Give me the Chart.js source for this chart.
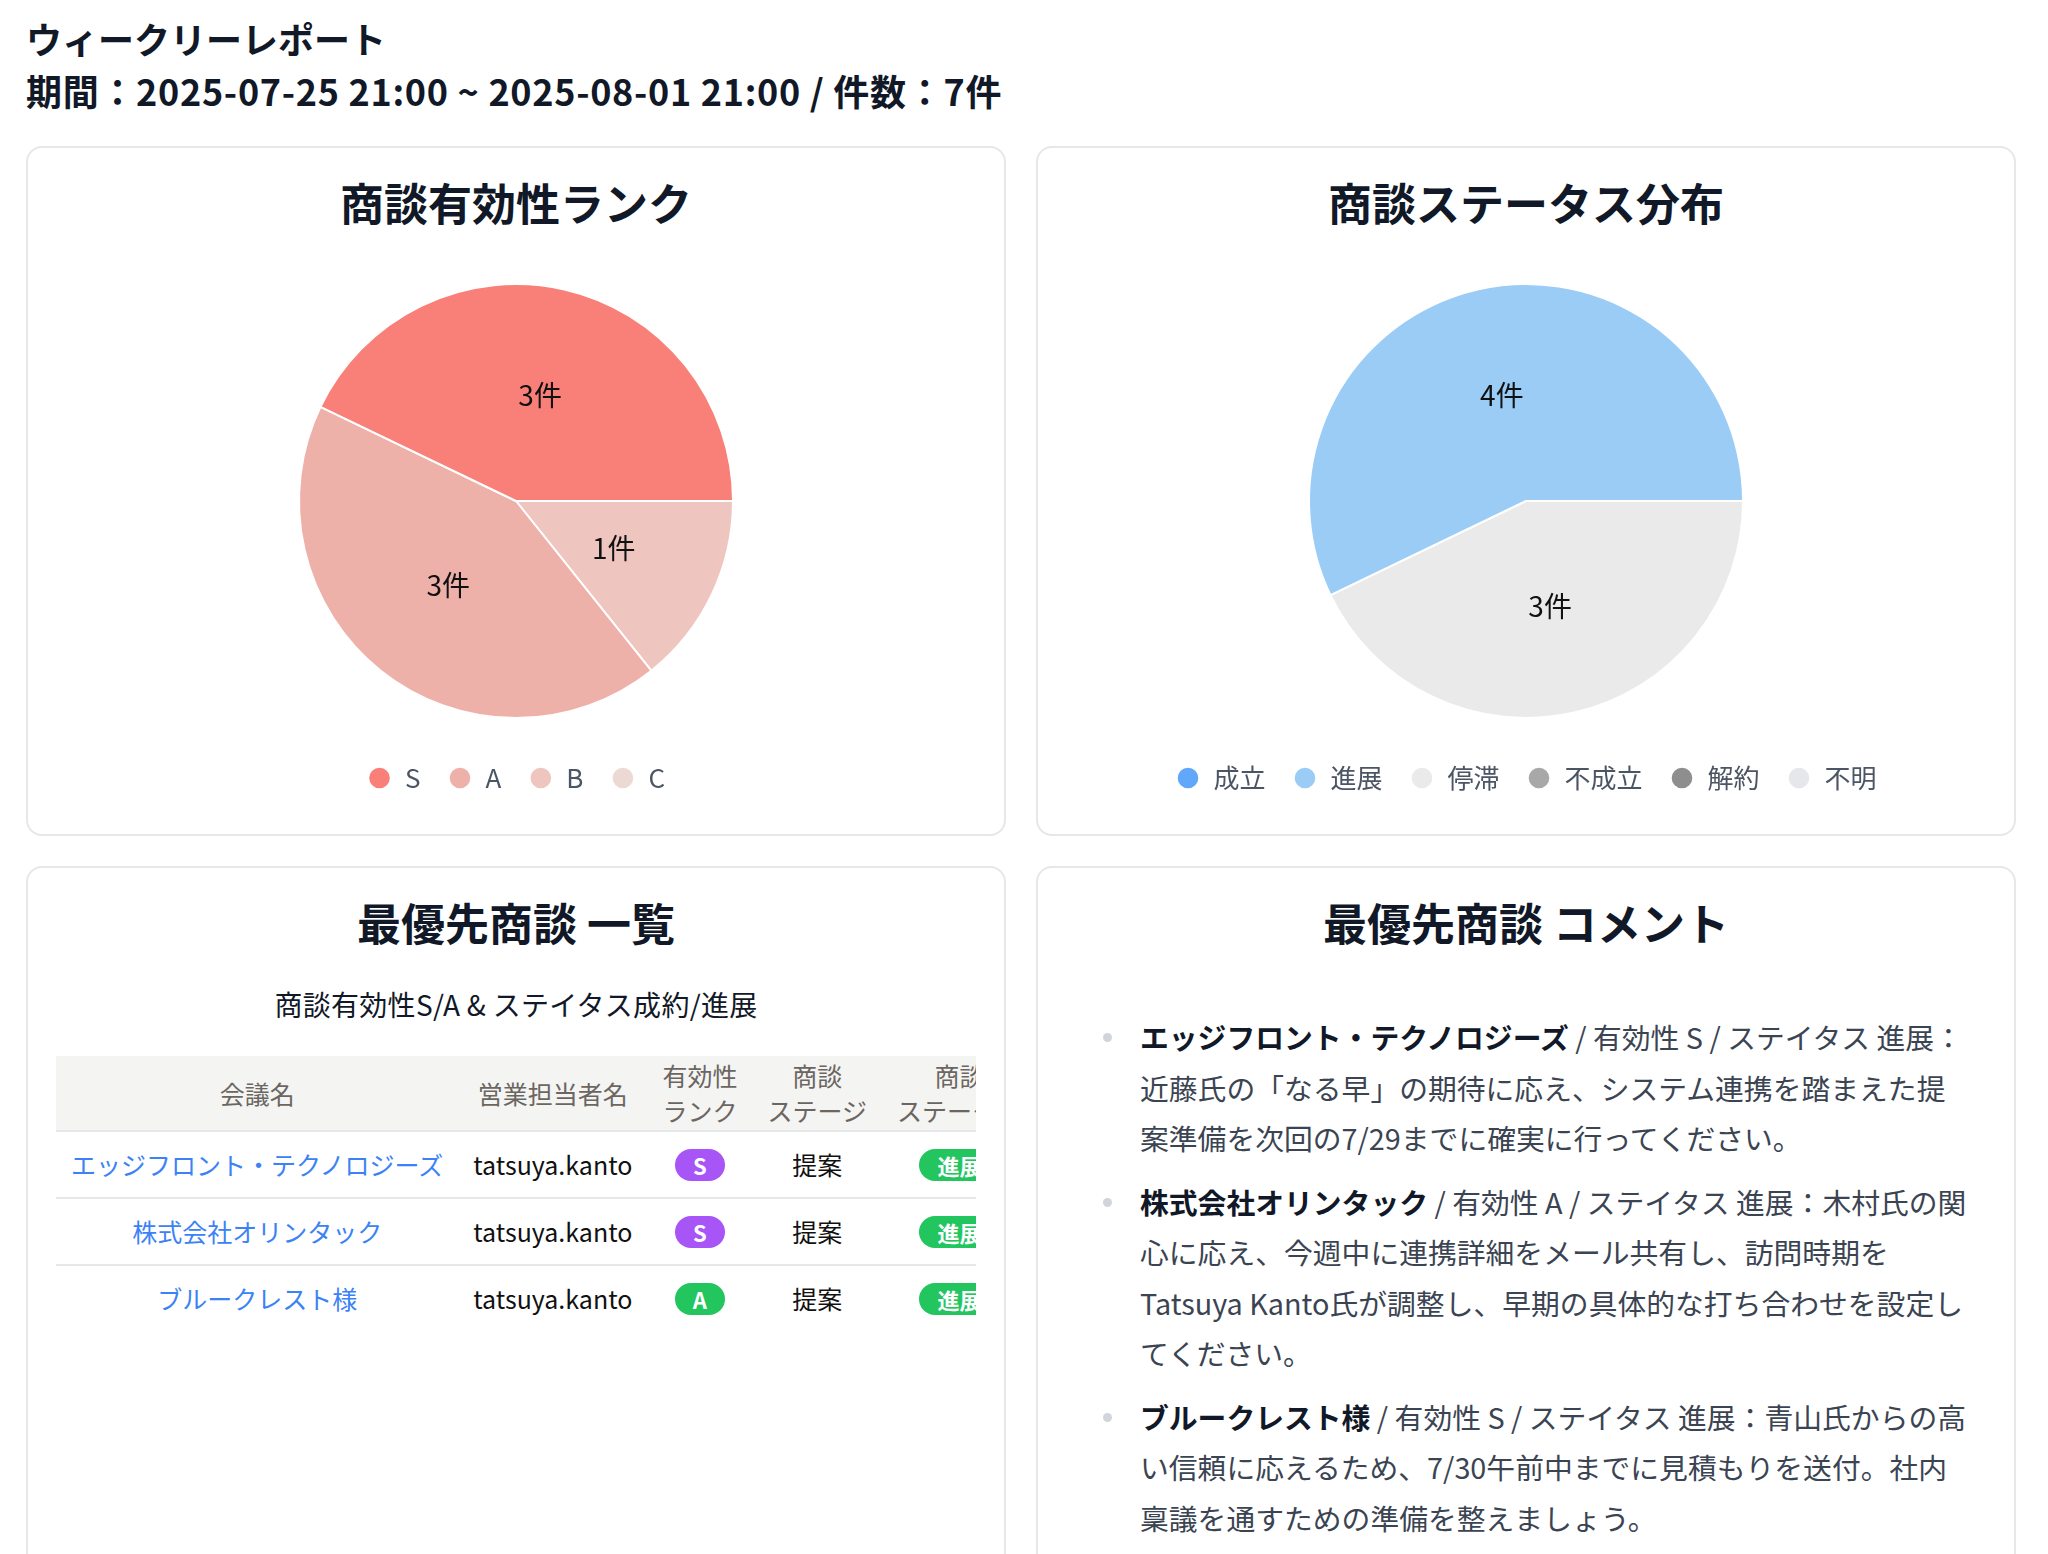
<!DOCTYPE html>
<html lang="ja">
<head>
<meta charset="utf-8">
<title>ウィークリーレポート</title>
<script src="https://cdn.jsdelivr.net/npm/chart.js@4.4.1/dist/chart.umd.min.js"></script>
<style>
  html, body { margin: 0; overflow: hidden; }
  body {
    width: 2048px;
    height: 1554px;
    box-sizing: border-box;
    padding: 12px 0 0 26px;
    background: #fff;
    color: #111827;
    font-family: "Noto Sans CJK JP", "Noto Sans", sans-serif;
  }
  .report-title { margin: 0; font-size: 36px; font-weight: 700; line-height: 52px; }
  .report-title .period { letter-spacing: 0.7px; }
  .grid {
    display: grid;
    grid-template-columns: 980px 980px;
    column-gap: 30px;
    row-gap: 30px;
    margin-top: 30px;
  }
  .card {
    box-sizing: border-box;
    height: 690px;
    padding: 24px 28px 0;
    border: 2px solid #E5E7EB;
    border-radius: 16px;
    background: #fff;
  }
  .card.tall { height: 760px; }
  .card h2 { margin: 0; font-size: 44px; line-height: 60px; font-weight: 700; text-align: center; }
  .chart-box { position: relative; height: 537px; margin-top: 32px; }

  .sub { margin: 32px 0 32px; font-size: 28px; line-height: 40px; text-align: center; letter-spacing: 0.3px; }
  .table-wrap { overflow: hidden; }
  table { border-collapse: collapse; white-space: nowrap; font-size: 25px; }
  th {
    background: #F4F4F3;
    color: #6B6661;
    font-weight: 400;
    line-height: 35px;
    padding: 2px 15px;
    border-bottom: 2px solid #E5E7EB;
    text-align: center;
  }
  td { padding: 15px 15px; line-height: 35px; text-align: center; border-bottom: 2px solid #E5E7EB; color: #111; }
  tr:last-child td { border-bottom: none; }
  td a { color: #3B82F6; text-decoration: none; }
  .badge {
    display: inline-block;
    height: 32px;
    line-height: 32px;
    margin-top: 2px;
    padding: 0 18px;
    border-radius: 16px;
    color: #fff;
    font-size: 22px;
    font-weight: 700;
    vertical-align: top;
  }

  ul.comments {
    list-style: none;
    margin: 60px 0 0;
    padding: 0 0 0 74px;
    font-size: 28.8px;
    line-height: 50.5px;
    color: #3B4452;
  }
  ul.comments li { position: relative; margin-bottom: 13px; white-space: nowrap; }
  ul.comments li::before {
    content: '';
    position: absolute;
    left: -37px;
    top: 21px;
    width: 9px;
    height: 9px;
    border-radius: 50%;
    background: #D1D5DB;
  }
  ul.comments b { color: #111827; font-weight: 700; }
</style>
</head>
<body>
  <h1 class="report-title">ウィークリーレポート<br><span class="period">期間：2025-07-25 21:00 ~ 2025-08-01 21:00 / 件数：7件</span></h1>

  <div class="grid">
    <div class="card">
      <h2>商談有効性ランク</h2>
      <div class="chart-box"><canvas id="rankChart"></canvas></div>
    </div>
    <div class="card">
      <h2>商談ステータス分布</h2>
      <div class="chart-box"><canvas id="statusChart"></canvas></div>
    </div>
    <div class="card tall">
      <h2>最優先商談 一覧</h2>
      <div class="sub">商談有効性S/A &amp; ステイタス成約/進展</div>
      <div class="table-wrap">
        <table>
          <thead>
            <tr><th>会議名</th><th>営業担当者名</th><th>有効性<br>ランク</th><th>商談<br>ステージ</th><th>商談<br>ステータス</th></tr>
          </thead>
          <tbody id="dealRows"></tbody>
        </table>
      </div>
    </div>
    <div class="card tall">
      <h2>最優先商談 コメント</h2>
      <ul class="comments">
        <li><b>エッジフロント・テクノロジーズ</b> / 有効性 S / ステイタス 進展：<br>近藤氏の「なる早」の期待に応え、システム連携を踏まえた提<br>案準備を次回の7/29までに確実に行ってください。</li>
        <li><b>株式会社オリンタック</b> / 有効性 A / ステイタス 進展：木村氏の関<br>心に応え、今週中に連携詳細をメール共有し、訪問時期を<br>Tatsuya Kanto氏が調整し、早期の具体的な打ち合わせを設定し<br>てください。</li>
        <li><b>ブルークレスト様</b> / 有効性 S / ステイタス 進展：青山氏からの高<br>い信頼に応えるため、7/30午前中までに見積もりを送付。社内<br>稟議を通すための準備を整えましょう。</li>
      </ul>
    </div>
  </div>

<script>
// rank pie
const rankLabels = ['S', 'A', 'B', 'C'];
const rankCounts = [3, 3, 1, 0];
const rankColors = ['#F97F79', '#EEB1AA', '#EFC6BF', '#EDD9D3'];

// status pie
const statusLabels = ['成立', '進展', '停滞', '不成立', '解約', '不明'];
const statusCounts = [0, 4, 3, 0, 0, 0];
const statusColors = ['#62A8FA', '#9ACCF6', '#EAEAEA', '#A8A8A8', '#8E8E8E', '#E5E7EB'];

// priority deals
const dealNames = ['エッジフロント・テクノロジーズ', '株式会社オリンタック', 'ブルークレスト様'];
const dealOwners = ['tatsuya.kanto', 'tatsuya.kanto', 'tatsuya.kanto'];
const dealRanks = ['S', 'S', 'A'];
const dealStages = ['提案', '提案', '提案'];
const dealStatuses = ['進展', '進展', '進展'];

const badgeColors = { S: '#A855F7', A: '#22C55E', '進展': '#22C55E' };

Chart.defaults.font.family = '"Noto Sans CJK JP", "Noto Sans", sans-serif';

// draws "n件" in the middle of every non-empty slice
const sliceLabels = {
  id: 'sliceLabels',
  afterDatasetsDraw(chart) {
    const ctx = chart.ctx;
    const values = chart.data.datasets[0].data;
    ctx.save();
    ctx.font = '28px "Noto Sans CJK JP", sans-serif';
    ctx.fillStyle = '#111';
    ctx.textAlign = 'center';
    ctx.textBaseline = 'middle';
    chart.getDatasetMeta(0).data.forEach((arc, i) => {
      if (!values[i]) return;
      const p = arc.tooltipPosition();
      ctx.fillText(values[i] + '件', p.x, p.y);
    });
    ctx.restore();
  }
};

// slices run counter-clockwise from 3 o'clock in the original,
// so the data goes in reversed and the legend is flipped back
function makePie(id, labels, counts, colors) {
  return new Chart(document.getElementById(id), {
    type: 'pie',
    data: {
      labels: labels.slice().reverse(),
      datasets: [{
        data: counts.slice().reverse(),
        backgroundColor: colors.slice().reverse(),
        borderColor: '#fff',
        borderWidth: 2,
        radius: 217
      }]
    },
    options: {
      responsive: true,
      maintainAspectRatio: false,
      animation: false,
      rotation: 90,
      plugins: {
        legend: {
          position: 'bottom',
          reverse: true,
          labels: {
            usePointStyle: true,
            pointStyle: 'circle',
            boxWidth: 25,
            boxHeight: 16,
            padding: 27,
            color: '#4B5563',
            font: { size: 26 }
          }
        },
        tooltip: { enabled: false }
      }
    },
    plugins: [sliceLabels]
  });
}

makePie('rankChart', rankLabels, rankCounts, rankColors);
makePie('statusChart', statusLabels, statusCounts, statusColors);

function badge(text) {
  const span = document.createElement('span');
  span.className = 'badge';
  span.style.background = badgeColors[text];
  span.textContent = text;
  return span;
}

const tbody = document.getElementById('dealRows');
dealNames.forEach((name, i) => {
  const tr = document.createElement('tr');
  const nameCell = document.createElement('td');
  const link = document.createElement('a');
  link.href = '#';
  link.textContent = name;
  nameCell.appendChild(link);
  tr.appendChild(nameCell);

  const ownerCell = document.createElement('td');
  ownerCell.textContent = dealOwners[i];
  tr.appendChild(ownerCell);

  const rankCell = document.createElement('td');
  rankCell.appendChild(badge(dealRanks[i]));
  tr.appendChild(rankCell);

  const stageCell = document.createElement('td');
  stageCell.textContent = dealStages[i];
  tr.appendChild(stageCell);

  const statusCell = document.createElement('td');
  statusCell.appendChild(badge(dealStatuses[i]));
  tr.appendChild(statusCell);

  tbody.appendChild(tr);
});
</script>
</body>
</html>
